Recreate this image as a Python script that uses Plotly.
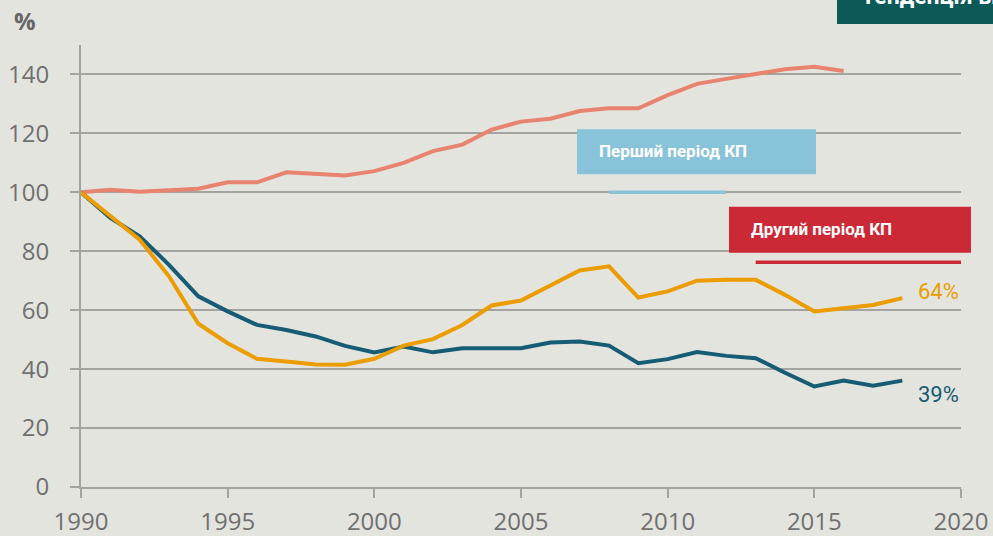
import plotly.graph_objects as go

years = list(range(1990, 2019))
pink_years = list(range(1990, 2017))
pink_values = [100, 100.9, 100.2, 100.8, 101.2, 103.4, 103.4, 106.8, 106.1, 105.7,
               107.2, 110.0, 114.0, 116.2, 121.3, 124.0, 125.0, 127.6, 128.5, 128.5,
               133.0, 136.8, 138.5, 140.3, 141.8, 142.6, 141.2]
orange_values = [100, 91.9, 83.9, 71.5, 55.4, 48.8, 43.5, 42.6, 41.6, 41.5,
                 43.5, 48.0, 50.2, 55.0, 61.6, 63.3, 68.4, 73.5, 74.9, 64.3,
                 66.4, 70.0, 70.3, 70.3, 65.2, 59.6, 60.7, 61.8, 64.1]
teal_values = [100, 91.3, 85.1, 75.4, 64.7, 59.6, 55.0, 53.3, 51.1, 47.9,
               45.7, 47.7, 45.7, 47.1, 47.1, 47.1, 49.0, 49.4, 48.0, 42.0,
               43.4, 45.8, 44.5, 43.7, 38.8, 34.1, 36.1, 34.4, 36.1]
end_labels = ["64%", "39%"]
period_labels = ["Перший період КП", "Другий період КП"]
period_start = [2008, 2013]
period_end = [2012, 2020]
x_ticks = [1990, 1995, 2000, 2005, 2010, 2015, 2020]
y_ticks = [0, 20, 40, 60, 80, 100, 120, 140]
corner_title = "Тенденція викидів"

BG = "#e4e4df"
PINK = "#e8836f"
ORANGE = "#eb9c00"
TEAL = "#155c74"
BLUE = "#88c3d9"
RED = "#cc2936"
DARK = "#0b5a58"
GRID = "#a3a3a0"
TICKC = "#707070"

fig = go.Figure()
fig.add_trace(go.Scatter(x=pink_years, y=pink_values, mode="lines",
                         line=dict(color=PINK, width=4), hoverinfo="skip"))
fig.add_trace(go.Scatter(x=years, y=teal_values, mode="lines",
                         line=dict(color=TEAL, width=4), hoverinfo="skip"))
fig.add_trace(go.Scatter(x=years, y=orange_values, mode="lines",
                         line=dict(color=ORANGE, width=4), hoverinfo="skip"))

# period marker lines
period_line_y = [100, 76.3]
period_colors = [BLUE, RED]
for i in range(2):
    fig.add_trace(go.Scatter(x=[period_start[i], period_end[i]],
                             y=[period_line_y[i], period_line_y[i]], mode="lines",
                             line=dict(color=period_colors[i], width=3.5),
                             hoverinfo="skip", cliponaxis=False))

L, R, T, B = 81, 32, 45, 49
W, H = 993, 536
PW, PH = W - L - R, H - T - B


def px2paper_x(px):
    return (px - L) / PW


def px2paper_y(py):
    return 1 - (py - T) / PH


shapes = []
annotations = []
# period boxes
boxes = [(577, 816, 129.3, 174.3), (729, 971, 206.7, 252.7)]
text_x = [597, 749]
for i, (x0, x1, y0, y1) in enumerate(boxes):
    shapes.append(dict(type="rect", xref="paper", yref="paper",
                       x0=px2paper_x(x0), x1=px2paper_x(x1),
                       y0=px2paper_y(y1), y1=px2paper_y(y0),
                       fillcolor=period_colors[i], line=dict(width=0), layer="above"))
    annotations.append(dict(xref="paper", yref="paper",
                            x=px2paper_x(text_x[i]), y=px2paper_y((y0 + y1) / 2 - 1),
                            xanchor="left", yanchor="middle", showarrow=False,
                            text=period_labels[i],
                            font=dict(family="Roboto", size=17, color="white", weight="bold")))

# corner dark box
shapes.append(dict(type="rect", xref="paper", yref="paper",
                   x0=px2paper_x(837), x1=px2paper_x(1000),
                   y0=px2paper_y(24), y1=px2paper_y(-10),
                   fillcolor=DARK, line=dict(width=0), layer="above"))
annotations.append(dict(xref="paper", yref="paper", x=px2paper_x(859), y=px2paper_y(12),
                        xanchor="left", yanchor="bottom", showarrow=False,
                        text=corner_title,
                        font=dict(family="Roboto", size=23, color="white", weight="bold")))

# % label
annotations.append(dict(xref="paper", yref="paper", x=px2paper_x(12), y=px2paper_y(21),
                        xanchor="left", yanchor="middle", showarrow=False, text="%",
                        font=dict(family="Open Sans", size=24, color="#666666", weight="bold")))

# end labels
annotations.append(dict(x=years[-1], y=orange_values[-1], xanchor="left", yanchor="middle",
                        xshift=14, yshift=7, showarrow=False, text=end_labels[0],
                        font=dict(family="Roboto", size=22, color=ORANGE)))
annotations.append(dict(x=years[-1], y=teal_values[-1], xanchor="left", yanchor="middle",
                        xshift=14, yshift=-14, showarrow=False, text=end_labels[1],
                        font=dict(family="Roboto", size=22, color=TEAL)))

fig.update_layout(
    width=W, height=H, autosize=False,
    margin=dict(l=L, r=R, t=T, b=B, pad=0, autoexpand=False),
    paper_bgcolor=BG, plot_bgcolor=BG,
    showlegend=False,
    shapes=shapes, annotations=annotations,
    xaxis=dict(range=[1990, 2020], tickvals=x_ticks, ticktext=[str(v) for v in x_ticks],
               showgrid=False, zeroline=False, showline=True, linecolor=GRID, linewidth=1.5,
               ticks="outside", ticklen=9, tickwidth=1.5, tickcolor=GRID,
               tickfont=dict(family="Open Sans", size=24, color=TICKC),
               ticklabelstandoff=3, automargin=False, fixedrange=True),
    yaxis=dict(range=[0, 150], tickvals=y_ticks, ticktext=[str(v) for v in y_ticks],
               showgrid=True, gridcolor=GRID, gridwidth=1.5, zeroline=False,
               showline=True, linecolor=GRID, linewidth=2,
               ticks="outside", ticklen=9, tickwidth=1.5, tickcolor=GRID,
               tickfont=dict(family="Open Sans", size=24, color=TICKC),
               ticklabelstandoff=16, automargin=False, fixedrange=True),
)

fig.write_html(
    "out.html",
    config={"displayModeBar": False},
    post_script="document.body.style.margin='0';document.body.style.background='" + BG + "';",
)
